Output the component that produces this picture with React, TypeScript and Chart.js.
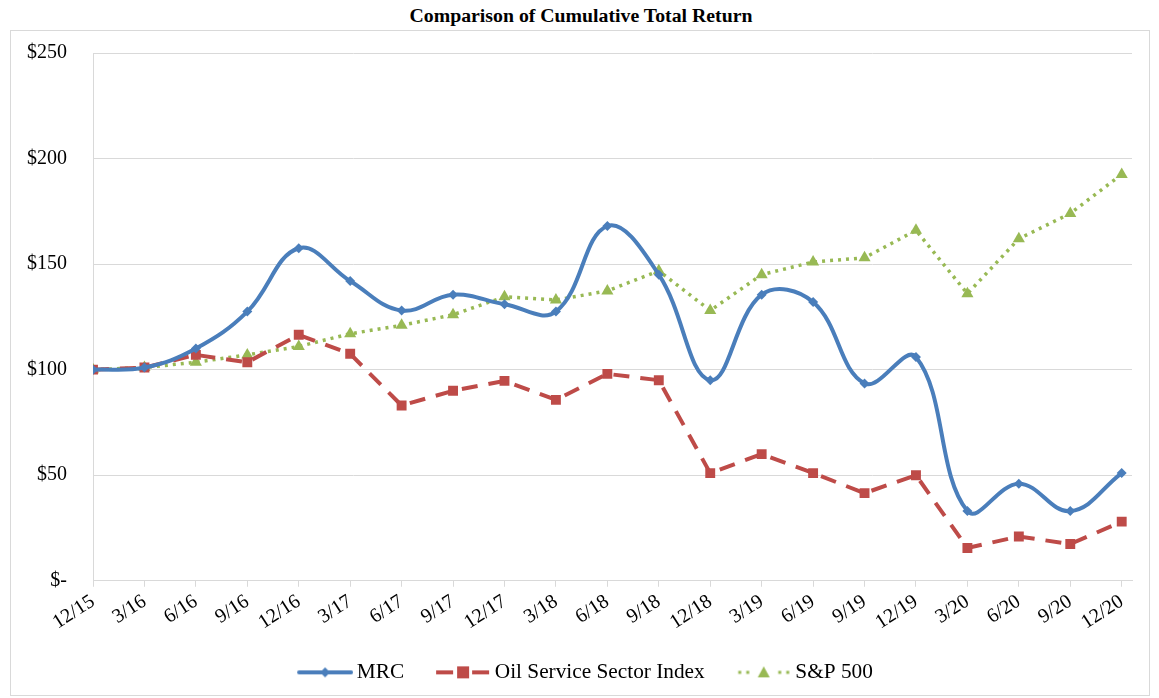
import React, { useEffect, useRef } from 'react';
import { Chart, registerables } from 'chart.js';

Chart.register(...registerables);

const quarters = ['12/15', '3/16', '6/16', '9/16', '12/16', '3/17', '6/17', '9/17', '12/17', '3/18', '6/18', '9/18', '12/18', '3/19', '6/19', '9/19', '12/19', '3/20', '6/20', '9/20', '12/20'];
const mrcValues = [100, 101, 110, 127.5, 157.5, 142, 128, 135.5, 131, 127.5, 168, 145, 95, 135.5, 132, 93.5, 106, 33, 46, 33, 51];
const oilValues = [100, 101, 107, 103.5, 116.5, 107.5, 83, 90, 94.7, 85.7, 98, 95, 51, 60, 51, 41.5, 50, 15.5, 21, 17.4, 28];
const spValues = [100, 101, 103.5, 107, 111, 117, 121, 126, 134.5, 133, 137.3, 146.8, 128, 145, 151, 153, 166, 136, 162, 174, 192.5];
const seriesNames = ['MRC', 'Oil Service Sector Index', 'S&P 500'];
const yTicks = [0, 50, 100, 150, 200, 250];

const BLUE = '#4A7EBB';
const RED = '#BE4B48';
const GREEN = '#98B954';
const GRID = '#D9D9D9';
const FONT = "'Liberation Serif', 'Times New Roman', serif";

// legend sample image: 70 wide, sample drawn from x=14 to x=70
function legendSample(kind: number): HTMLCanvasElement {
  const c = document.createElement('canvas');
  c.width = 70;
  c.height = 20;
  const ctx = c.getContext('2d')!;
  ctx.translate(14, 0);
  const cy = 10;
  if (kind === 0) {
    ctx.strokeStyle = BLUE;
    ctx.lineWidth = 4;
    ctx.lineCap = 'round';
    ctx.beginPath();
    ctx.moveTo(2, cy);
    ctx.lineTo(54, cy);
    ctx.stroke();
    ctx.fillStyle = BLUE;
    ctx.beginPath();
    ctx.moveTo(28, cy - 5);
    ctx.lineTo(33, cy);
    ctx.lineTo(28, cy + 5);
    ctx.lineTo(23, cy);
    ctx.closePath();
    ctx.fill();
  } else if (kind === 1) {
    ctx.strokeStyle = RED;
    ctx.lineWidth = 4;
    ctx.beginPath();
    ctx.moveTo(1, cy);
    ctx.lineTo(18, cy);
    ctx.moveTo(37, cy);
    ctx.lineTo(54, cy);
    ctx.stroke();
    ctx.fillStyle = RED;
    ctx.fillRect(22, cy - 6, 12, 12);
  } else {
    ctx.fillStyle = GREEN;
    [4, 12, 44, 52].forEach((x) => ctx.fillRect(x - 1.5, cy - 1.5, 3, 3));
    ctx.beginPath();
    ctx.moveTo(28, cy - 6);
    ctx.lineTo(34, cy + 5);
    ctx.lineTo(22, cy + 5);
    ctx.closePath();
    ctx.fill();
  }
  return c;
}

const legendShift = {
  id: 'legendShift',
  afterLayout(chart: any) {
    if (chart.legend) {
      chart.legend.left += 10;
      chart.legend.right += 10;
    }
  },
};

export default function App() {
  const canvasRef = useRef<HTMLCanvasElement | null>(null);

  useEffect(() => {
    if (!canvasRef.current) return;
    const samples = [legendSample(0), legendSample(1), legendSample(2)];
    const toPts = (arr: number[]) => arr.map((y, i) => ({ x: i, y }));
    const chart = new Chart(canvasRef.current, {
      type: 'line',
      plugins: [legendShift],
      data: {
        datasets: [
          {
            label: seriesNames[0],
            data: toPts(mrcValues),
            borderColor: BLUE,
            backgroundColor: BLUE,
            borderWidth: 4,
            tension: 0.4,
            pointStyle: 'rectRot',
            pointRadius: 5,
            pointBorderWidth: 0,
            pointBackgroundColor: BLUE,
            order: 1,
          },
          {
            label: seriesNames[1],
            data: toPts(oilValues),
            borderColor: RED,
            backgroundColor: RED,
            borderWidth: 4,
            borderDash: [16, 11],
            tension: 0,
            pointStyle: 'rect',
            pointRadius: 7,
            pointBorderWidth: 0,
            pointBackgroundColor: RED,
            order: 2,
          },
          {
            label: seriesNames[2],
            data: toPts(spValues),
            borderColor: GREEN,
            backgroundColor: GREEN,
            borderWidth: 3.5,
            borderDash: [3, 5],
            tension: 0,
            pointStyle: 'triangle',
            pointRadius: 7,
            pointBorderWidth: 0,
            pointBackgroundColor: GREEN,
            order: 3,
          },
        ],
      },
      options: {
        animation: false,
        responsive: false,
        maintainAspectRatio: false,
        layout: { padding: { top: 22, right: 17, left: 0, bottom: 2 } },
        plugins: {
          title: { display: false },
          tooltip: { enabled: false },
          legend: {
            position: 'bottom',
            labels: {
              usePointStyle: true,
              pointStyleWidth: 56,
              padding: 24,
              color: '#000',
              font: { family: FONT, size: 21.3 },
              generateLabels: (ch: any) => {
                const items = Chart.defaults.plugins.legend.labels.generateLabels(ch);
                return items.map((it: any, i: number) => ({ ...it, pointStyle: samples[i] }));
              },
            },
          },
        },
        scales: {
          x: {
            type: 'linear',
            min: 0,
            max: 20.2,
            afterBuildTicks: (scale: any) => {
              scale.ticks = quarters.map((_, i) => ({ value: i }));
            },
            grid: {
              drawOnChartArea: false,
              drawTicks: true,
              tickLength: 6,
              color: GRID,
            },
            border: { display: true, color: GRID, width: 1 },
            ticks: {
              autoSkip: false,
              minRotation: 33,
              maxRotation: 33,
              padding: 3,
              color: '#000',
              font: { family: FONT, size: 20 },
              callback: (v: any) => quarters[Math.round(Number(v))] ?? '',
            },
          },
          y: {
            min: 0,
            max: 250,
            afterBuildTicks: (scale: any) => {
              scale.ticks = yTicks.map((v) => ({ value: v }));
            },
            afterFit: (scale: any) => {
              scale.width = 82;
            },
            grid: { color: GRID, drawTicks: true, tickLength: 26, tickColor: 'rgba(0,0,0,0)', lineWidth: 1 },
            border: { display: true, color: GRID, width: 1 },
            ticks: {
              padding: 0,
              color: '#000',
              font: { family: FONT, size: 20 },
              callback: (v: any) => (Number(v) === 0 ? '$-' : '$' + v),
            },
          },
        },
      },
    } as any);
    return () => chart.destroy();
  }, []);

  return (
    <div style={{ position: 'fixed', left: 0, top: 0, width: 1159, height: 698, background: '#fff' }}>
      <div
        style={{
          position: 'absolute',
          left: 0,
          top: 3,
          width: 1162,
          textAlign: 'center',
          fontFamily: FONT,
          fontWeight: 'bold',
          fontSize: 19.8,
          lineHeight: '24px',
          color: '#000',
        }}
      >
        Comparison of Cumulative Total Return
      </div>
      <div
        style={{
          position: 'absolute',
          left: 10,
          top: 30,
          width: 1140,
          height: 666,
          border: '1px solid #D9D9D9',
          boxSizing: 'border-box',
        }}
      >
        <canvas ref={canvasRef} width={1138} height={664} style={{ display: 'block' }} />
      </div>
    </div>
  );
}
